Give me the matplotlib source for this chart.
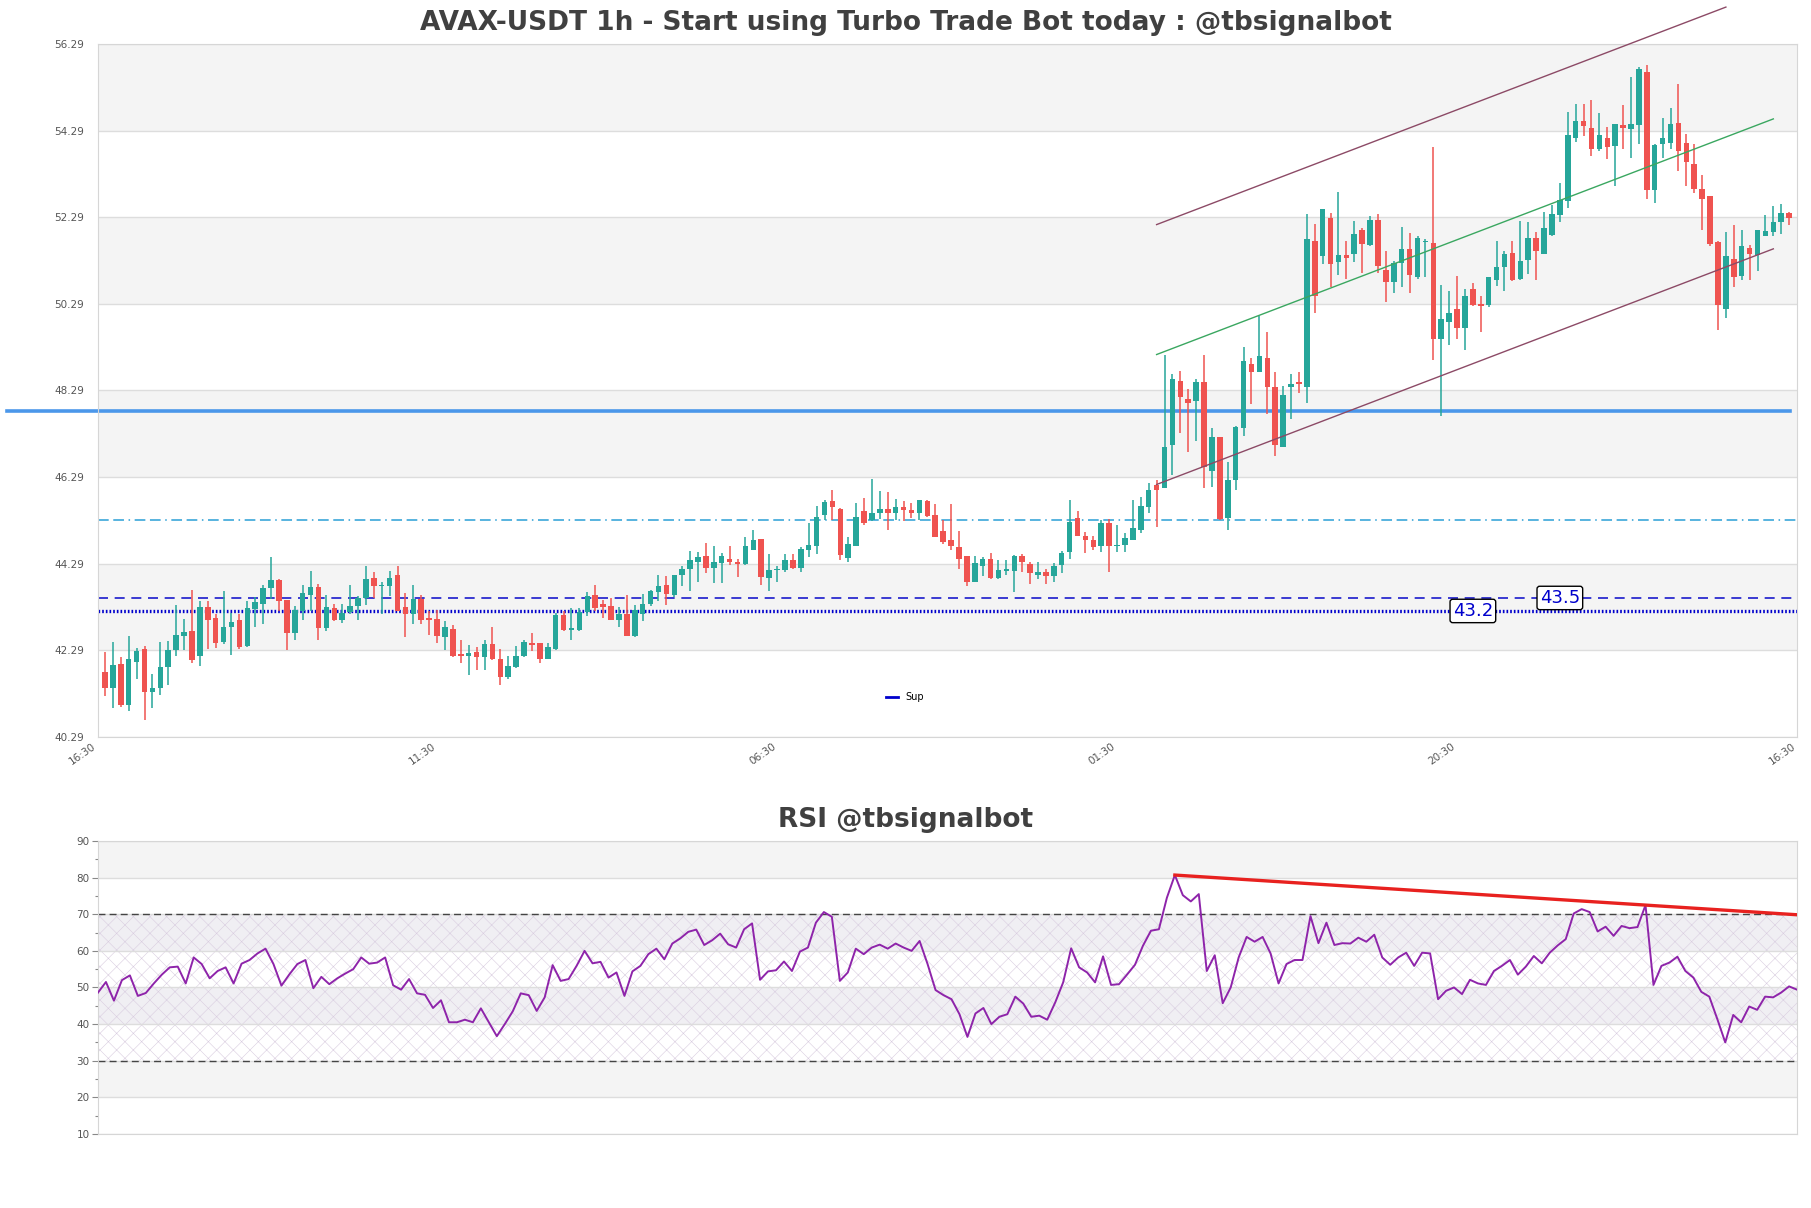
import numpy as np
import matplotlib.pyplot as plt
from matplotlib.lines import Line2D

# OHLC, 1h candles
opens = [41.79, 41.43, 41.98, 41.02, 42.03, 42.33, 41.32, 41.43, 41.90, 42.29,
         42.63, 42.73, 42.15, 43.29, 43.04, 42.49, 42.83, 42.98, 42.38, 43.25,
         43.37, 43.72, 43.91, 43.45, 42.68, 43.21, 43.56, 43.76, 42.80, 43.27,
         42.98, 43.17, 43.32, 43.49, 43.96, 43.77, 43.77, 44.03, 43.30, 43.14,
         43.48, 43.04, 43.02, 42.59, 42.79, 42.19, 42.17, 42.25, 42.13, 42.43,
         42.10, 41.67, 41.90, 42.15, 42.46, 42.46, 42.10, 42.33, 43.11, 42.75,
         42.77, 43.17, 43.57, 43.37, 43.32, 42.99, 43.13, 42.63, 43.13, 43.37,
         43.63, 43.80, 43.57, 44.03, 44.17, 44.32, 44.47, 44.20, 44.31, 44.40,
         44.33, 44.29, 44.60, 44.87, 43.96, 44.15, 44.15, 44.38, 44.20, 44.61,
         44.70, 45.42, 45.74, 45.56, 44.42, 44.70, 45.51, 45.31, 45.46, 45.56,
         45.47, 45.61, 45.52, 45.47, 45.75, 45.42, 45.04, 44.83, 44.67, 44.46,
         43.88, 44.24, 44.40, 43.97, 44.13, 44.13, 44.47, 44.29, 44.03, 44.10,
         44.00, 44.27, 44.57, 45.34, 44.93, 44.84, 44.69, 45.24, 44.69, 44.73,
         44.84, 45.08, 45.60, 46.10, 46.03, 47.03, 48.50, 48.10, 48.04, 48.48,
         46.44, 47.22, 45.35, 46.22, 47.42, 48.91, 48.71, 49.04, 48.38, 46.99,
         48.37, 48.49, 48.38, 51.75, 51.40, 52.27, 51.26, 51.42, 51.45, 51.99,
         51.65, 52.23, 51.07, 50.80, 51.23, 51.56, 50.91, 51.71, 51.69, 49.48,
         49.87, 50.16, 49.74, 50.64, 50.29, 50.27, 50.85, 51.13, 51.47, 50.86,
         51.31, 51.81, 51.45, 51.87, 52.35, 52.66, 54.11, 54.51, 54.36, 53.86,
         54.13, 53.93, 54.41, 54.32, 54.41, 55.65, 52.92, 53.97, 54.00, 54.46,
         54.00, 53.53, 52.95, 52.78, 51.71, 50.17, 51.33, 50.94, 51.58, 51.42,
         51.85, 51.94, 52.17, 52.39]
highs = [42.25, 42.48, 42.13, 42.62, 42.35, 42.40, 41.74, 42.48, 42.51, 43.34,
         43.01, 43.68, 43.44, 43.43, 43.13, 43.67, 43.16, 43.13, 43.44, 43.53,
         43.79, 44.45, 43.94, 43.45, 43.32, 43.80, 44.12, 43.82, 43.56, 43.36,
         43.36, 43.80, 43.55, 44.24, 44.11, 43.87, 44.12, 44.24, 43.61, 43.80,
         43.56, 43.21, 43.23, 42.97, 42.87, 42.53, 42.42, 42.37, 42.53, 42.84,
         42.33, 42.15, 42.38, 42.52, 42.69, 42.47, 42.47, 43.15, 43.21, 43.27,
         43.27, 43.63, 43.80, 43.46, 43.50, 43.28, 43.57, 43.34, 43.60, 43.69,
         44.03, 44.01, 44.03, 44.23, 44.59, 44.56, 44.77, 44.70, 44.53, 44.70,
         44.40, 44.90, 45.06, 44.87, 44.51, 44.24, 44.51, 44.52, 44.67, 45.24,
         45.63, 45.77, 46.00, 45.57, 44.90, 45.70, 45.80, 46.24, 45.97, 45.94,
         45.78, 45.74, 45.70, 45.77, 45.77, 45.67, 45.30, 45.67, 45.04, 44.46,
         44.46, 44.44, 44.53, 44.38, 44.38, 44.50, 44.51, 44.34, 44.33, 44.17,
         44.30, 44.59, 45.77, 45.51, 45.02, 44.92, 45.30, 45.32, 45.19, 45.00,
         45.76, 45.83, 46.16, 46.22, 49.12, 48.67, 48.75, 48.32, 48.56, 49.12,
         47.42, 47.22, 46.65, 47.47, 49.29, 49.04, 50.01, 49.65, 48.72, 48.40,
         48.66, 48.72, 52.37, 52.14, 52.48, 52.38, 52.87, 51.75, 52.21, 52.03,
         52.31, 52.37, 51.52, 51.28, 52.06, 51.92, 51.86, 51.79, 53.92, 50.72,
         50.59, 50.94, 50.63, 50.77, 50.46, 50.92, 51.75, 51.52, 51.75, 52.21,
         52.17, 51.94, 52.41, 52.58, 53.07, 54.73, 54.90, 54.90, 54.99, 54.69,
         54.38, 54.44, 54.88, 55.52, 55.76, 55.80, 53.98, 54.58, 54.82, 55.36,
         54.21, 53.97, 53.26, 52.79, 51.73, 51.94, 52.10, 52.00, 51.66, 52.00,
         52.33, 52.54, 52.60, 52.41]
lows = [41.23, 40.97, 40.99, 40.88, 41.62, 40.69, 40.95, 41.25, 41.48, 42.17,
        42.29, 41.99, 41.92, 42.33, 42.34, 42.43, 42.19, 42.32, 42.36, 42.84,
        42.89, 43.47, 43.20, 42.31, 42.53, 42.98, 43.20, 42.54, 42.73, 42.97,
        42.93, 43.13, 42.98, 43.33, 43.49, 43.13, 43.54, 43.21, 42.59, 42.90,
        42.90, 42.65, 42.47, 42.30, 42.13, 42.00, 41.73, 41.83, 41.83, 42.07,
        41.48, 41.62, 41.88, 42.13, 42.27, 42.01, 42.09, 42.30, 42.73, 42.52,
        42.73, 43.09, 43.19, 43.03, 42.99, 42.84, 42.63, 42.60, 42.96, 43.32,
        43.42, 43.34, 43.53, 43.77, 43.67, 43.86, 44.07, 43.84, 43.84, 44.27,
        43.98, 44.27, 44.60, 43.80, 43.67, 43.88, 44.09, 44.17, 44.11, 44.44,
        44.52, 45.30, 45.30, 44.37, 44.32, 44.69, 45.19, 45.28, 45.33, 45.06,
        45.30, 45.27, 45.34, 45.29, 45.37, 44.90, 44.75, 44.61, 44.17, 43.77,
        43.88, 44.01, 43.94, 43.93, 44.03, 43.63, 44.09, 43.82, 43.93, 43.82,
        43.88, 44.07, 44.40, 44.92, 44.53, 44.60, 44.57, 44.09, 44.57, 44.57,
        44.83, 45.01, 45.46, 45.14, 46.03, 46.34, 47.32, 46.88, 47.13, 46.03,
        46.06, 45.29, 45.07, 45.99, 47.24, 47.98, 48.71, 47.75, 46.78, 46.99,
        47.63, 48.23, 48.00, 50.09, 51.21, 50.69, 50.95, 50.87, 51.25, 51.01,
        51.63, 51.01, 50.33, 50.55, 50.68, 50.55, 50.86, 50.91, 49.00, 47.70,
        49.35, 49.48, 49.22, 50.24, 49.65, 50.21, 50.71, 50.58, 50.81, 50.85,
        50.99, 50.83, 51.43, 51.85, 52.17, 52.51, 54.03, 54.17, 53.70, 53.82,
        53.64, 53.02, 53.87, 53.66, 53.97, 52.70, 52.61, 53.66, 53.87, 53.36,
        53.02, 52.85, 52.00, 51.62, 49.69, 49.97, 50.68, 50.85, 50.85, 51.05,
        51.85, 51.85, 51.90, 52.12]
closes = [41.43, 41.95, 41.02, 42.09, 42.28, 41.32, 41.42, 41.91, 42.30, 42.64,
          42.71, 42.06, 43.29, 43.00, 42.47, 42.83, 42.94, 42.37, 43.27, 43.40,
          43.73, 43.91, 43.44, 42.70, 43.22, 43.62, 43.75, 42.80, 43.29, 42.98,
          43.15, 43.31, 43.49, 43.94, 43.77, 43.80, 43.96, 43.21, 43.13, 43.48,
          43.00, 43.00, 42.63, 42.83, 42.17, 42.17, 42.23, 42.13, 42.43, 42.10,
          41.67, 41.93, 42.16, 42.48, 42.42, 42.10, 42.37, 43.11, 42.75, 42.80,
          43.17, 43.54, 43.27, 43.30, 42.99, 43.13, 42.63, 43.23, 43.37, 43.67,
          43.78, 43.60, 44.03, 44.17, 44.38, 44.44, 44.19, 44.33, 44.47, 44.32,
          44.28, 44.70, 44.84, 43.98, 44.15, 44.17, 44.38, 44.20, 44.64, 44.73,
          45.37, 45.71, 45.61, 44.50, 44.75, 45.37, 45.24, 45.47, 45.56, 45.47,
          45.61, 45.54, 45.47, 45.77, 45.40, 44.90, 44.80, 44.70, 44.40, 43.87,
          44.30, 44.40, 43.97, 44.15, 44.17, 44.47, 44.32, 44.07, 44.09, 44.00,
          44.24, 44.54, 45.25, 44.92, 44.83, 44.67, 45.24, 44.70, 44.73, 44.88,
          45.11, 45.62, 45.99, 45.99, 46.99, 48.55, 48.15, 48.01, 48.48, 46.53,
          47.22, 45.33, 46.22, 47.44, 48.96, 48.71, 49.08, 48.38, 47.03, 48.19,
          48.45, 48.44, 51.79, 50.47, 52.48, 51.21, 51.42, 51.35, 51.90, 51.67,
          52.23, 51.17, 50.80, 51.23, 51.56, 50.95, 51.80, 51.74, 49.48, 49.95,
          50.09, 49.74, 50.48, 50.27, 50.23, 50.90, 51.14, 51.43, 50.85, 51.27,
          51.81, 51.50, 52.04, 52.37, 52.68, 54.18, 54.51, 54.40, 53.87, 54.18,
          53.91, 54.44, 54.34, 54.44, 55.71, 52.93, 53.95, 54.13, 54.44, 53.82,
          53.56, 52.95, 52.72, 51.68, 50.27, 51.40, 50.91, 51.63, 51.45, 52.00,
          51.97, 52.18, 52.39, 52.27]

rsi = [48.6, 51.5, 46.4, 52.0, 53.3, 47.7, 48.5, 51.1, 53.5, 55.5,
       55.7, 51.1, 58.2, 56.4, 52.5, 54.5, 55.5, 51.1, 56.5, 57.5,
       59.3, 60.6, 56.4, 50.5, 53.6, 56.4, 57.5, 49.8, 52.9, 50.9,
       52.5, 53.8, 55.0, 58.2, 56.5, 56.8, 58.2, 50.6, 49.4, 52.3,
       48.4, 48.0, 44.4, 46.5, 40.5, 40.5, 41.2, 40.5, 44.3, 40.5,
       36.7, 40.0, 43.5, 48.4, 47.9, 43.6, 47.3, 56.1, 51.8, 52.3,
       55.9, 60.0, 56.6, 57.0, 52.7, 54.1, 47.7, 54.4, 55.9, 59.1,
       60.6, 57.7, 62.0, 63.4, 65.2, 65.8, 61.6, 62.9, 64.7, 61.8,
       60.9, 65.9, 67.5, 52.1, 54.4, 54.7, 57.1, 54.5, 59.8, 60.9,
       67.7, 70.6, 69.3, 51.8, 54.1, 60.6, 59.1, 60.9, 61.7, 60.6,
       62.0, 60.9, 60.0, 62.7, 56.4, 49.3, 47.9, 46.8, 42.7, 36.5,
       42.9, 44.4, 40.0, 42.0, 42.7, 47.5, 45.6, 42.0, 42.3, 41.2,
       45.9, 51.4, 60.7, 55.5, 54.1, 51.4, 58.5, 50.7, 50.9, 53.5,
       56.2, 61.4, 65.5, 65.9, 74.5, 80.7, 75.2, 73.5, 75.5, 54.5,
       58.8, 45.7, 50.0, 58.2, 63.8, 62.5, 63.8, 59.3, 51.1, 56.4,
       57.5, 57.5, 69.5, 62.1, 67.7, 61.6, 62.1, 62.0, 63.6, 62.5,
       64.4, 58.2, 56.2, 58.2, 59.5, 55.9, 59.5, 59.3, 46.8, 49.1,
       50.0, 48.2, 52.1, 51.1, 50.7, 54.5, 55.9, 57.5, 53.5, 55.7,
       58.6, 56.6, 59.5, 61.5, 63.2, 70.2, 71.4, 70.6, 65.3, 66.6,
       64.1, 66.8, 66.2, 66.5, 72.5, 50.7, 55.9, 56.8, 58.4, 54.5,
       52.7, 48.8, 47.5, 41.4, 35.0, 42.5, 40.5, 44.8, 43.9, 47.5,
       47.3, 48.6, 50.3, 49.4]

time_labels = ['16:30', '11:30', '06:30', '01:30', '20:30', '16:30']
price_ticks = [40.29, 42.29, 44.29, 46.29, 48.29, 50.29, 52.29, 54.29, 56.29]

resistance = 47.82
pivot = 45.30
sup_a = 43.5
sup_b = 43.2

# regression channel (candle index, mid value)
chan_x = [133, 211]
chan_mid = [49.12, 54.56]
chan_half = 3.0
upper_end = 205

# rsi divergence line through two peaks
rsi_peak_x = [135, 194]
rsi_peak_y = [80.7, 72.5]

UP = '#26a69a'
DOWN = '#ef5350'
GREY_TXT = '#555555'

fig = plt.figure(figsize=(18.11, 12.08), dpi=100)
ax = fig.add_axes([0.0541, 0.3899, 0.9382, 0.5737])
ax2 = fig.add_axes([0.0541, 0.0613, 0.9382, 0.2425])

n = len(opens)
idx = np.arange(n)
o = np.array(opens); h = np.array(highs); l = np.array(lows); c = np.array(closes)

# ---- price panel ----
for k in range(len(price_ticks) - 1):
    if k % 2 == 1:
        ax.axhspan(price_ticks[k], price_ticks[k + 1], color='#f4f4f4', lw=0, zorder=0)
for t in price_ticks:
    ax.axhline(t, color='#dddddd', lw=1, zorder=1)

cols = np.where(c >= o, UP, DOWN)
ax.vlines(idx, l, h, colors=cols, lw=1.1, zorder=3)
body = np.maximum(np.abs(c - o), 0.03)
ax.bar(idx, body, bottom=np.minimum(o, c), width=0.7, color=cols, lw=0, zorder=3)

ax.axhline(resistance, xmin=-0.0536, xmax=0.996, color='#4b97ea', lw=2.6,
           clip_on=False, zorder=2)
ax.axhline(pivot, color='#2a9fd6', lw=1.1, dashes=(7, 3, 7, 3, 1, 3), zorder=2)
ax.axhline(sup_a, color='#1a1acc', lw=1.2, dashes=(6, 4), zorder=2)
ax.axhline(sup_b, color='#0000cc', lw=2.4, dashes=(0.5, 0.6), zorder=2)

slope = (chan_mid[1] - chan_mid[0]) / (chan_x[1] - chan_x[0])
xm = np.array(chan_x)
ym = np.array(chan_mid)
ax.plot(xm, ym, color='#3aa760', lw=1, zorder=4)
ax.plot(xm, ym - chan_half, color='#8c4a66', lw=1, zorder=4)
xu = np.array([chan_x[0], upper_end])
ax.plot(xu, chan_mid[0] + slope * (xu - chan_x[0]) + chan_half,
        color='#8c4a66', lw=1, zorder=4, clip_on=False)

box = dict(boxstyle='round,pad=0.15', fc='white', ec='black', lw=1)
ax.text(173, sup_b, '43.2', color='#0000cc', fontsize=13, ha='center',
        va='center', bbox=box, zorder=5)
ax.text(184, sup_a, '43.5', color='#0000cc', fontsize=13, ha='center',
        va='center', bbox=box, zorder=5)

x0, x1 = -0.885, 214.0
ax.set_xlim(x0, x1)
ax.set_ylim(price_ticks[0], price_ticks[-1])
ax.set_yticks(price_ticks)
ax.set_yticklabels([f'{t:.2f}' for t in price_ticks])
ax.set_xticks(np.linspace(x0, x1, len(time_labels)))
ax.set_xticklabels(time_labels, rotation=35, ha='right')
ax.tick_params(axis='both', length=0, labelsize=7.5, colors=GREY_TXT)
ax.tick_params(axis='y', pad=10)
ax.tick_params(axis='x', pad=3)
for s in ax.spines.values():
    s.set_color('#d6d6d6')

fig.legend(handles=[Line2D([], [], color='#0000cc', lw=2)], labels=['Sup'],
           loc='center', bbox_to_anchor=(905 / 1811, 1 - 697 / 1208),
           frameon=False, fontsize=7, handlelength=1.2)

# ---- RSI panel ----
for lo in (20, 80):
    ax2.axhspan(lo, lo + 10, color='#f4f4f4', lw=0, zorder=0)
for lo in (40, 60):
    ax2.axhspan(lo, lo + 10, color='#f0eff3', lw=0, zorder=0)
plt.rcParams['hatch.linewidth'] = 0.4
ax2.fill_between([0, n - 1], 30, 70, facecolor='none', edgecolor='#d9cde0',
                 hatch='xx', lw=0, zorder=1)
for t in range(10, 91, 10):
    ax2.axhline(t, color='#dddddd', lw=1, zorder=1)
ax2.axhline(70, color='#444444', lw=1, dashes=(5, 3), zorder=2)
ax2.axhline(30, color='#444444', lw=1, dashes=(5, 3), zorder=2)

ax2.plot(idx, rsi, color='#8e24aa', lw=1.4, zorder=3)
rx = np.array([rsi_peak_x[0], n - 1])
rslope = (rsi_peak_y[1] - rsi_peak_y[0]) / (rsi_peak_x[1] - rsi_peak_x[0])
ax2.plot(rx, rsi_peak_y[0] + rslope * (rx - rsi_peak_x[0]), color='#e8211f',
         lw=2.4, zorder=4)

ax2.set_xlim(0, n - 1)
ax2.set_ylim(10, 90)
ax2.set_yticks(range(10, 91, 10))
ax2.set_yticks(range(15, 90, 10), minor=True)
ax2.set_xticks([])
ax2.tick_params(axis='y', which='major', length=4, width=0.8, color='#888888',
                labelsize=7.5, labelcolor=GREY_TXT, pad=2)
ax2.tick_params(axis='y', which='minor', length=2, width=0.8, color='#888888')
for s in ax2.spines.values():
    s.set_color('#d6d6d6')

fig.text(0.5, 1 - 23 / 1208, 'AVAX-USDT 1h - Start using Turbo Trade Bot today : @tbsignalbot',
         ha='center', va='center', fontsize=19, fontweight='bold', color='#404040')
fig.text(0.5, 1 - 820 / 1208, 'RSI @tbsignalbot', ha='center', va='center',
         fontsize=19, fontweight='bold', color='#404040')

fig.savefig('out.png', dpi=100)
